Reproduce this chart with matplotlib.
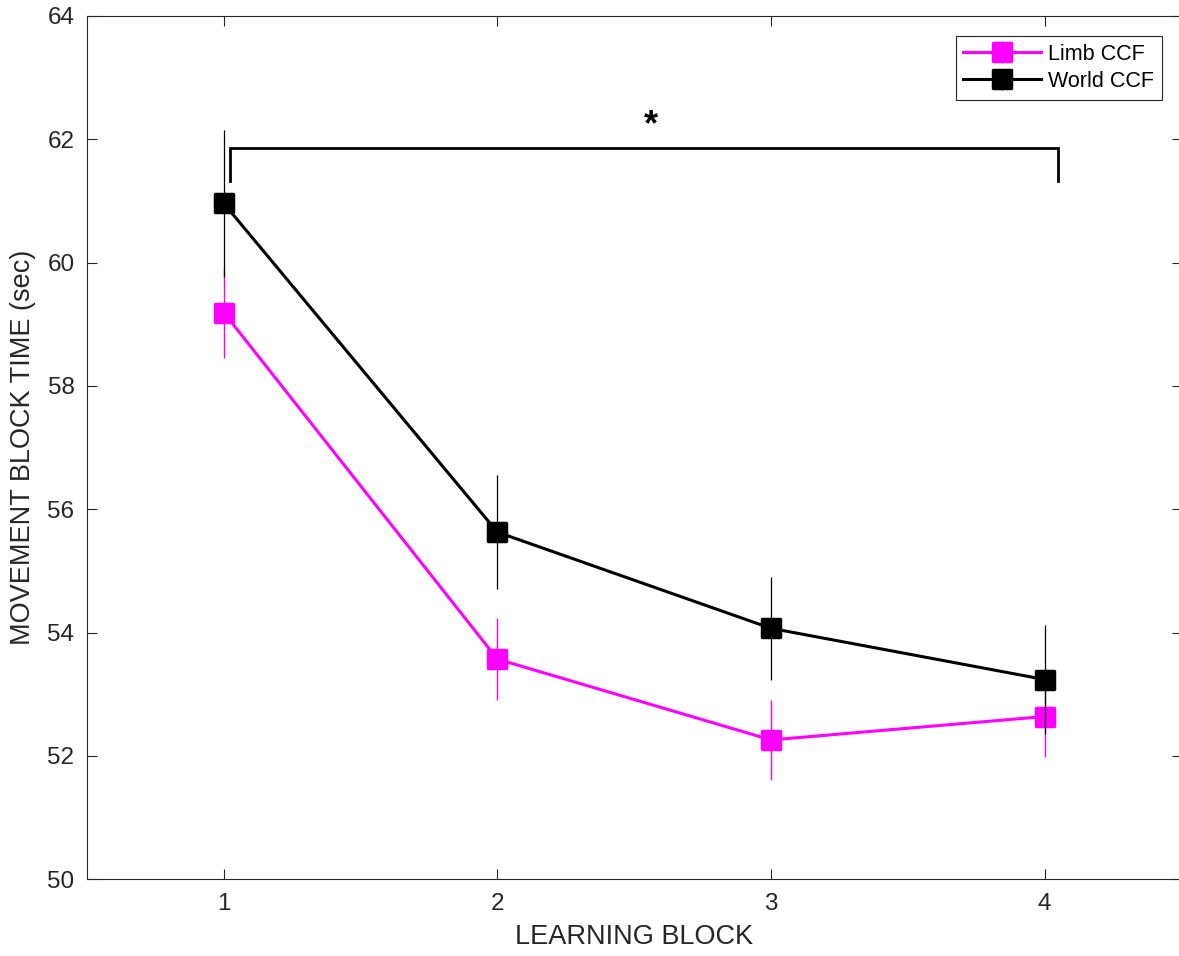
import matplotlib.pyplot as plt
from matplotlib.markers import MarkerStyle

# values
blocks = [1, 2, 3, 4]
limb_mean = [59.19, 53.57, 52.26, 52.64]
limb_err = [0.73, 0.66, 0.65, 0.65]
world_mean = [60.96, 55.63, 54.07, 53.24]
world_err = [1.19, 0.92, 0.84, 0.89]

# significance bracket between block 1 and block 4
bracket_x = [1.023, 1.023, 4.05, 4.05]
bracket_y = [61.32, 61.86, 61.86, 61.32]
star_x, star_y = 2.56, 62.22

plt.rcParams['font.family'] = ['Liberation Sans', 'DejaVu Sans']
txt_col = '#262626'
pink = '#ff00ff'

fig = plt.figure(figsize=(11.79, 9.56), dpi=100)
ax = fig.add_axes([87 / 1179, 1 - 879.3 / 956, (1181.5 - 87) / 1179, (879.3 - 16) / 956])

sq = MarkerStyle('s', joinstyle='round')

ax.errorbar(blocks, limb_mean, yerr=limb_err, color=pink, lw=2.2, elinewidth=1.0,
            marker=sq, ms=13.5, mew=2.5, mec=pink, mfc=pink, capsize=0,
            label='Limb CCF', zorder=2)
ax.errorbar(blocks, world_mean, yerr=world_err, color='k', lw=2.2, elinewidth=0.9,
            marker=sq, ms=13.5, mew=2.5, mec='k', mfc='k', capsize=0,
            label='World CCF', zorder=3)

ax.plot(bracket_x, bracket_y, color='k', lw=2.0, solid_joinstyle='miter', zorder=4)
ax.text(star_x, star_y, '*', fontsize=26, fontweight='bold', ha='center', va='center', color='k')

ax.set_xlim(0.5, 4.5)
ax.set_ylim(50, 64)
ax.set_xticks(blocks)
ax.set_yticks(range(50, 65, 2))

ax.tick_params(direction='in', length=7, width=0.8, color=txt_col,
               labelcolor=txt_col, labelsize=17.5, top=True, right=True)
ax.tick_params(axis='y', pad=9)
ax.tick_params(axis='x', pad=10)
for s in ax.spines.values():
    s.set_color(txt_col)
    s.set_linewidth(0.8)

ax.set_xlabel('LEARNING BLOCK', fontsize=19.5, color=txt_col, labelpad=6)
ax.set_ylabel('MOVEMENT BLOCK TIME (sec)', fontsize=19.5, color=txt_col, labelpad=8)

leg = ax.legend(loc='upper right', bbox_to_anchor=(1162 / 1179, 1 - 36 / 956),
                bbox_transform=fig.transFigure, borderaxespad=0, fontsize=15.5,
                handlelength=3.6, handletextpad=0.35, borderpad=0.35,
                labelspacing=0.3, fancybox=False, framealpha=1)
leg.get_frame().set_edgecolor(txt_col)
leg.get_frame().set_linewidth(0.8)

fig.savefig('out.png', dpi=100)
